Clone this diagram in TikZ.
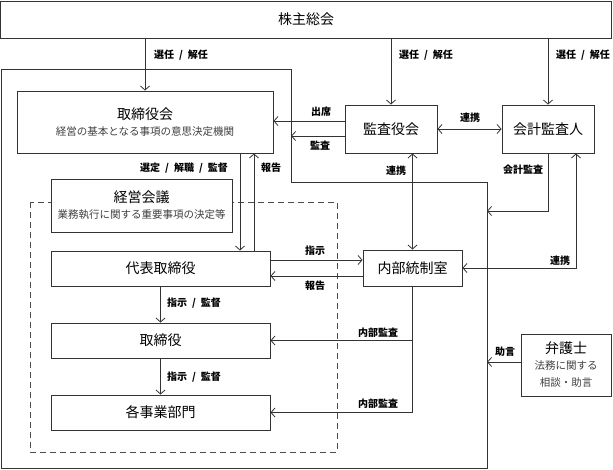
\documentclass[tikz,border=0pt]{standalone}
\usepackage{fontspec}
\setmainfont{Noto Sans CJK JP}
\usepackage{tikz}
\usetikzlibrary{calc}
\usetikzlibrary{positioning, arrows.meta}

\newcommand{\sla}{\enspace/\enspace}
\newcommand{\subtxt}{\fontsize{10.5}{13.5}\selectfont\color{black!75}}

\begin{document}
\begin{tikzpicture}[
  x=1pt, y=-1pt,
  every node/.style={align=center, inner sep=0pt},
  box/.style={draw=black!80, fill=white, line width=0.9pt, font=\fontsize{14}{17}\selectfont},
  lbl/.style={font=\fontsize{10}{12}\selectfont\bfseries},
  arrow/.style={-{Straight Barb[length=4pt,width=9pt]}, line width=0.8pt, draw=black!80},
  both/.style={{Straight Barb[length=4pt,width=9pt]}-{Straight Barb[length=4pt,width=9pt]}, line width=0.8pt, draw=black!80}
]
\useasboundingbox (0,0) rectangle (613,469);

% company boundary
\coordinate (cNW) at (1,69);
\coordinate (cNE) at (291,69);
\coordinate (cIn) at (291,182);
\coordinate (cE) at (487,182);
\coordinate (cSE) at (487,468);
\coordinate (cSW) at (1,468);
\draw[line width=1pt, black!80] (cNW) -- (cNE) -- (cIn) -- (cE) -- (cSE) -- (cSW) -- cycle;

% executive area
\draw[line width=1pt, black!70, dash pattern=on 6pt off 4pt] (30,202) rectangle (337,452);

\node[box, minimum width=611pt, minimum height=37pt] (top) at (306,19.5) {株主総会};
\node[box, minimum width=256pt, minimum height=62pt] (board) at (145,122)
  {取締役会\\[-1pt]\subtxt 経営の基本となる事項の意思決定機関};
\node[box, minimum width=92pt, minimum height=48pt] (kansa) at (391,129) {監査役会};
\node[box, minimum width=92pt, minimum height=48pt] (auditor) at (548,129) {会計監査人};
\node[box, minimum width=181pt, minimum height=53pt] (keiei) at (141.5,205.5)
  {経営会議\\[-1pt]\subtxt 業務執行に関する重要事項の決定等};
\node[box, minimum width=219pt, minimum height=35pt] (ceo) at (160.5,268.5) {代表取締役};
\node[box, minimum width=99pt, minimum height=36pt] (naibu) at (412.5,268) {内部統制室};
\node[box, minimum width=219pt, minimum height=35pt] (director) at (160.5,340.5) {取締役};
\node[box, minimum width=219pt, minimum height=35pt] (dept) at (160.5,412.5) {各事業部門};
\node[box, minimum width=90pt, minimum height=62pt] (lawyer) at (566,365)
  {弁護士\\[-1pt]\subtxt 法務に関する\\\subtxt 相談・助言};

% shareholders
\draw[arrow] (top.south -| board) -- (board.north);
\draw[arrow] (top.south -| kansa) -- (kansa.north);
\draw[arrow] (top.south -| auditor) -- (auditor.north);
\node[lbl] (l1) at (181,55) {選任\sla{}解任};
\node[lbl] (l2) at (426,55) {選任\sla{}解任};
\node[lbl] (l3) at (583,55) {選任\sla{}解任};

% auditors
\draw[arrow] (kansa.west |- 0,121) -- (board.east |- 0,121);
\draw[arrow] (kansa.west |- 0,136) -- (cNE |- 0,136);
\draw[both] (kansa.east) -- (auditor.west);
\node[lbl] (l4) at (321,112) {出席};
\node[lbl] (l5) at (320,146) {監査};
\node[lbl] (l6) at (470,118) {連携};

% board and CEO
\draw[arrow] (board.south -| 240,0) -- (ceo.north -| 240,0);
\draw[arrow] (ceo.north -| 254,0) -- (board.south -| 254,0);
\node[lbl] (l7) at (184,168) {選定\sla{}解職\sla{}監督};
\node[lbl] (l8) at (271,168) {報告};

% internal control
\draw[both] (naibu.north |- kansa.south) -- (naibu.north);
\draw[arrow] (auditor.south) |- (cE |- 0,211);
\draw[both] (naibu.east) -| ([xshift=28pt]auditor.south);
\node[lbl] (l9) at (396,171) {連携};
\node[lbl] (l10) at (523,170) {会計監査};
\node[lbl] (l11) at (560,261) {連携};

\draw[arrow] (ceo.east |- 0,260) -- (naibu.west |- 0,260);
\draw[arrow] (naibu.west |- 0,276) -- (ceo.east |- 0,276);
\node[lbl] (l12) at (315,251) {指示};
\node[lbl] (l13) at (315,286) {報告};

% line of command
\draw[arrow] (ceo.south) -- (director.north);
\draw[arrow] (director.south) -- (dept.north);
\node[lbl] (l14) at (194,303) {指示\sla{}監督};
\node[lbl] (l15) at (194,377) {指示\sla{}監督};

% internal audit
\draw[line width=0.8pt, black!80] (naibu.south) -- (naibu.south |- dept.east);
\draw[arrow] (naibu.south |- director.east) -- (director.east);
\draw[arrow] (naibu.south |- dept.east) -- (dept.east);
\node[lbl] (l16) at (378,333) {内部監査};
\node[lbl] (l17) at (378,404) {内部監査};

% lawyer
\draw[arrow] ([yshift=3pt]lawyer.west) -- (cE |- 0,362);
\node[lbl] (l18) at (505,352) {助言};
\end{tikzpicture}
\end{document}
